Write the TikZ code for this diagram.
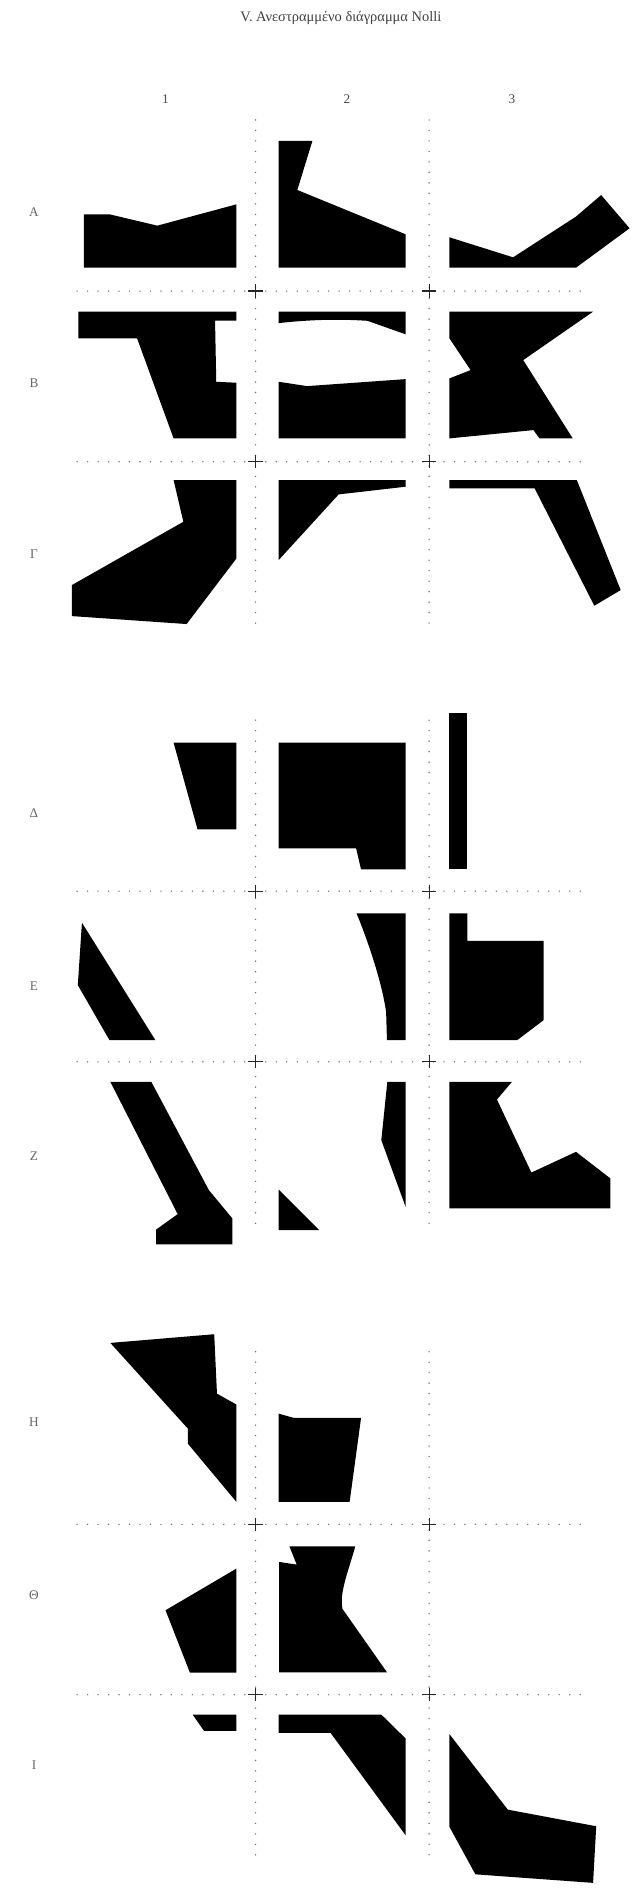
\documentclass[tikz,border=0pt]{standalone}
\usepackage{fontspec}
\setmainfont{Liberation Serif}
\begin{document}
\begin{tikzpicture}[x=1pt,y=-1pt,
  gridline/.style={draw=black!55,line width=1.3pt,line cap=round,dash pattern=on 0pt off 8.7pt},
  crossmark/.style={draw=black!85,line width=1pt},
  block/.style={fill=black},
  collabel/.style={text=black!70,font=\fontsize{11}{13}\selectfont,inner sep=0pt},
  rowlabel/.style={text=black!60,font=\fontsize{11}{13}\selectfont,inner sep=0pt},
  titletext/.style={text=black!75,font=\fontsize{12}{14}\selectfont,inner sep=0pt}]
\useasboundingbox[fill=white] (0,0) rectangle (528,1568);

\node[titletext] (title) at (283,15.2) {V. Ανεστραμμένο διάγραμμα Nolli};
\node[collabel] (c1) at (137.4,82.5) {1};
\node[collabel] (c2) at (287.9,82.5) {2};
\node[collabel] (c3) at (424.9,82.5) {3};

\node[rowlabel] (rA) at (28.2,175.7) {Α};
\node[rowlabel] (rB) at (28.2,318.3) {Β};
\node[rowlabel] (rG) at (28.2,459.9) {Γ};
\node[rowlabel] (rD) at (28.2,675.2) {Δ};
\node[rowlabel] (rE) at (28.2,818.5) {Ε};
\node[rowlabel] (rZ) at (28.2,959.4) {Ζ};
\node[rowlabel] (rH) at (28.2,1180.3) {Η};
\node[rowlabel] (rT) at (28.2,1323.8) {Θ};
\node[rowlabel] (rI) at (28.2,1465.3) {Ι};

% grids
\foreach \top/\ha/\hb/\bot in {99.6/241.6/383.3/523, 597.8/739.7/881.4/1021, 1122/1265.3/1406.7/1547}{
  \draw[gridline] (212.1,\top) -- (212.1,\bot);
  \draw[gridline] (356.2,\top) -- (356.2,\bot);
  \draw[gridline] (64,\ha) -- (490,\ha);
  \draw[gridline] (64,\hb) -- (490,\hb);
  \foreach \yy in {\ha,\hb}{
    \foreach \xx in {212.1,356.2}{
      \draw[crossmark] (\xx-6,\yy) -- (\xx+6,\yy) (\xx,\yy-5.5) -- (\xx,\yy+5.5);
    }
  }
}

% ---- Group 1 ----
% A
\fill[block] (69.7,177.9) -- (90.9,177.9) -- (130.6,187.3) -- (196.3,169.6) -- (196.3,222.2) -- (69.7,222.2) -- cycle;
\fill[block] (231.3,117) -- (259.3,117) -- (246.8,157.7) -- (336.7,194.5) -- (336.7,222.2) -- (231.3,222.2) -- cycle;
\fill[block] (373.1,197) -- (425.9,213.6) -- (478.1,179.8) -- (499,161.9) -- (522.6,189.5) -- (478.1,222.2) -- (373.1,222.2) -- cycle;
% B
\fill[block] (65,258.7) -- (196.3,258.7) -- (196.3,266.2) -- (178.5,266.2) -- (179.5,316.9) -- (196.3,317.7) -- (196.3,363.9) -- (144.1,363.9) -- (113.8,280.9) -- (65,280.9) -- cycle;
\fill[block] (231.3,258.7) -- (336.7,258.7) -- (336.7,277.5) -- (305,266.3) .. controls (285,265) and (262,264.8) .. (231.3,268.2) -- cycle;
\fill[block] (231.3,316.9) -- (254.9,320.5) -- (336.7,314.7) -- (336.7,363.9) -- (231.3,363.9) -- cycle;
\fill[block] (373.1,258.7) -- (492.3,258.7) -- (434.3,298.9) -- (475.4,363.9) -- (447.8,363.9) -- (442.8,357) -- (373.1,363.9) -- (373.1,314.1) -- (390.6,307.2) -- (373.1,280.9) -- cycle;
% Gamma
\fill[block] (144.1,398.5) -- (196.3,398.5) -- (196.3,463.5) -- (154.9,518) -- (59.6,511.4) -- (59.6,485.7) -- (152.2,433.1) -- cycle;
\fill[block] (231.3,398.5) -- (336.7,398.5) -- (336.7,404) -- (281.1,410.4) -- (231.3,464.9) -- cycle;
\fill[block] (373.1,398.5) -- (478.8,398.5) -- (515.2,489.8) -- (493.3,502.8) -- (443.8,405.4) -- (373.1,405.4) -- cycle;

% ---- Group 2 ----
% Delta
\fill[block] (144.1,616.5) -- (196.3,616.5) -- (196.3,688.5) -- (164,688.5) -- cycle;
\fill[block] (231.3,616.5) -- (336.7,616.5) -- (336.7,721.7) -- (299.7,721.7) -- (295.6,704.2) -- (231.3,704.2) -- cycle;
\fill[block] (373.1,592.2) -- (387.9,592.2) -- (387.9,721.7) -- (373.1,721.7) -- cycle;
% E
\fill[block] (68,765.9) -- (129,863.4) -- (90.9,863.4) -- (64.6,817.7) -- cycle;
\fill[block] (296,758.2) -- (336.7,758.2) -- (336.7,863.4) -- (321.2,863.4) -- (320.5,840) .. controls (317,815) and (305,780) .. (296,758.2) -- cycle;
\fill[block] (373.1,758.2) -- (387.9,758.2) -- (387.9,780.9) -- (451.2,780.9) -- (451.2,846.8) -- (429.3,863.4) -- (373.1,863.4) -- cycle;
% Z
\fill[block] (91.6,898) -- (125.6,898) -- (173.4,987.9) -- (192.9,1011.4) -- (192.9,1033) -- (129.6,1033) -- (129.6,1020.6) -- (147.5,1007.8) -- cycle;
\fill[block] (321.5,898) -- (336.7,898) -- (336.7,1001.8) -- (316.5,946.4) -- cycle;
\fill[block] (231.3,987.4) -- (265,1021.1) -- (231.3,1021.1) -- cycle;
\fill[block] (373.1,898) -- (424.9,898) -- (412.5,912.7) -- (441.1,973.3) -- (478.1,956.1) -- (506.7,978.2) -- (506.7,1003.1) -- (373.1,1003.1) -- cycle;

% ---- Group 3 ----
% H
\fill[block] (91.6,1114.7) -- (177.8,1107.5) -- (180.1,1156.8) -- (196.3,1165.9) -- (196.3,1246.7) -- (155.9,1198.3) -- (155.9,1185.8) -- cycle;
\fill[block] (231.3,1173.4) -- (244.1,1177) -- (299.7,1177) -- (290.2,1246.7) -- (231.3,1246.7) -- cycle;
% Theta
\fill[block] (196.3,1302) -- (137.4,1336.6) -- (157.6,1388.3) -- (196.3,1388.3) -- cycle;
\fill[block] (231.6,1296.5) -- (246.3,1298.7) -- (240.2,1283.5) -- (294.9,1283.5) .. controls (289,1305) and (281.5,1322) .. (284.3,1335.5) -- (321.2,1388.1) -- (231.6,1388.1) -- cycle;
% I
\fill[block] (159.9,1423.2) -- (196.3,1423.2) -- (196.3,1436.8) -- (169.4,1436.8) -- cycle;
\fill[block] (231.3,1423.2) -- (316.5,1423.2) -- (336.7,1443.1) -- (336.7,1523.4) -- (274.4,1438.4) -- (231.3,1438.4) -- cycle;
\fill[block] (373.1,1439.5) -- (421.5,1502.1) -- (494.9,1515.9) -- (492.3,1562.9) -- (394.6,1555.8) -- (373.1,1516.5) -- cycle;
\end{tikzpicture}
\end{document}
